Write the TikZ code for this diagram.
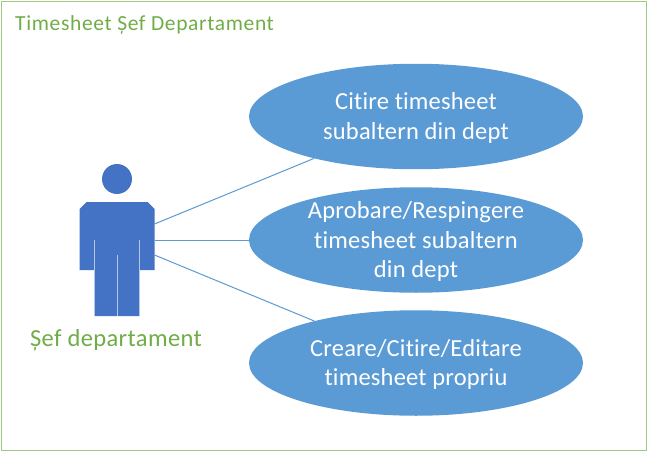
\documentclass[tikz,border=0pt]{standalone}
\usepackage{fontspec}
\setmainfont{Carlito}[RawFeature={-liga;-clig}]
\usetikzlibrary{shapes.geometric}
\definecolor{usecase}{HTML}{5B9BD5}
\definecolor{person}{HTML}{4472C4}
\definecolor{grn}{HTML}{70AD47}
\definecolor{frame}{HTML}{9CCB81}
\definecolor{slit}{HTML}{B4C7E7}
\newcommand{\upstrut}{\rule{0pt}{20pt}}
\tikzset{
  usecasebox/.style={ellipse,draw=none,fill=usecase,minimum width=334pt,minimum height=105.5pt,inner sep=-30pt,
    text=white,align=center,font=\fontsize{24.5}{29.5}\selectfont\addfontfeatures{LetterSpace=0.8}},
  link/.style={draw=usecase,line width=1pt},
  greentext/.style={text=grn,inner sep=0pt},
  slitline/.style={draw=slit,line width=1pt}
}
\begin{document}
\begin{tikzpicture}[x=1pt,y=-1pt]
\useasboundingbox (0,0) rectangle (648,452);
\fill[white] (0,0) rectangle (648,452);
\draw[frame,line width=1.6pt] (1.5,1.5) rectangle (646.5,450.5);
\node[greentext,anchor=west,font=\fontsize{21.5}{24}\selectfont\addfontfeatures{LetterSpace=3}] (title) at (15,24.5) {Timesheet Șef Departament};
\node[usecasebox] (e1) at (416,116.5) {\upstrut Citire timesheet\\subaltern din dept};
\node[usecasebox] (e2) at (416,240) {\upstrut Aprobare/Respingere\\timesheet subaltern\\din dept};
\node[usecasebox] (e3) at (416,363) {\upstrut Creare/Citire/Editare\\timesheet propriu};
% person
\node[circle,fill=person,draw=none,minimum size=30pt,inner sep=0pt] (head) at (117,179) {};
\fill[person] (86.5,202) -- (147.5,202) -- (154.5,209) -- (154.5,270) -- (139.5,270) -- (139.5,316)
  -- (94.5,316) -- (94.5,270) -- (79.5,270) -- (79.5,209) -- cycle;
\coordinate (s1a) at (94.5,240); \coordinate (s1b) at (94.5,316);
\coordinate (s2a) at (139.5,240); \coordinate (s2b) at (139.5,316);
\coordinate (s3a) at (117,255); \coordinate (s3b) at (117,316);
\draw[slitline] (s1a) -- (s1b);
\draw[slitline] (s2a) -- (s2b);
\draw[slitline] (s3a) -- (s3b);
\coordinate (a1) at (154.5,224);
\coordinate (a2) at (154.5,240);
\coordinate (a3) at (154.5,255);
\draw[link] (a1) -- (e1);
\draw[link] (a2) -- (e2);
\draw[link] (a3) -- (e3);
\node[greentext,font=\fontsize{24.5}{29}\selectfont\addfontfeatures{LetterSpace=1.6}] (label) at (116,340.5) {Șef departament};
\end{tikzpicture}
\end{document}
